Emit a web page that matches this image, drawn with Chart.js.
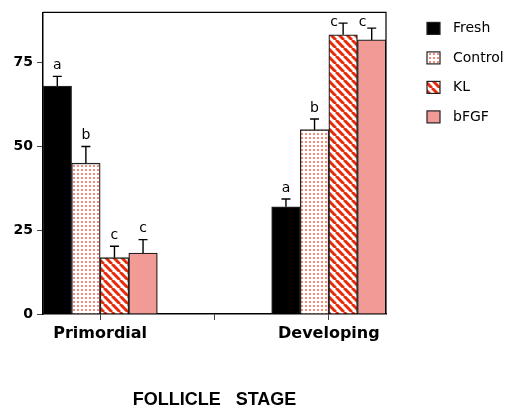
<!DOCTYPE html>
<html>
<head>
<meta charset="utf-8">
<script src="https://cdn.jsdelivr.net/npm/chart.js@4.4.0/dist/chart.umd.min.js"></script>
<style>
  html, body { margin: 0; padding: 0; background: #fff; }
  canvas { display: block; }
</style>
</head>
<body>
<canvas id="chart" width="506" height="411"></canvas>
<script>
const categories = ['Primordial', '', 'Developing'];
const seriesNames = ['Fresh', 'Control', 'KL', 'bFGF'];
const freshValues = [68, null, 32];
const controlValues = [45, null, 55];
const klValues = [16.8, null, 83.3];
const bfgfValues = [18.2, null, 81.8];
const freshErrors = [2.9, null, 2.3];
const controlErrors = [5, null, 3.2];
const klErrors = [3.4, null, 3.5];
const bfgfErrors = [4, null, 3.5];
const freshLetters = ['a', null, 'a'];
const controlLetters = ['b', null, 'b'];
const klLetters = ['c', null, 'c'];
const bfgfLetters = ['c', null, 'c'];
const yTicks = [0, 25, 50, 75];

function makeDots() {
    const c = document.createElement('canvas');
    c.width = 4; c.height = 4;
    const g = c.getContext('2d');
    g.fillStyle = '#fff';
    g.fillRect(0, 0, 4, 4);
    g.fillStyle = 'rgba(238, 90, 70, 0.7)';
    g.fillRect(1, 1, 2, 2);
    return g.createPattern(c, 'repeat');
}

function makeStripes() {
    const s = 8;
    const c = document.createElement('canvas');
    c.width = s; c.height = s;
    const g = c.getContext('2d');
    g.fillStyle = '#fff';
    g.fillRect(0, 0, s, s);
    g.strokeStyle = '#e62a0a';
    g.lineWidth = 3;
    [-s, 0, s].forEach(dx => {
        g.beginPath();
        g.moveTo(dx, 0);
        g.lineTo(dx + s, s);
        g.stroke();
    });
    return g.createPattern(c, 'repeat');
}

const ctx = document.getElementById('chart').getContext('2d');
const fills = ['#000', makeDots(), makeStripes(), '#f29a96'];
const values = [freshValues, controlValues, klValues, bfgfValues];
const errors = [freshErrors, controlErrors, klErrors, bfgfErrors];
const letters = [freshLetters, controlLetters, klLetters, bfgfLetters];

// error bars + significance letters
const errorBars = {
    id: 'errorBars',
    afterDatasetsDraw(chart) {
        const { ctx, chartArea, scales: { y } } = chart;
        ctx.save();
        ctx.strokeStyle = '#000';
        ctx.lineWidth = 1.4;
        ctx.fillStyle = '#000';
        ctx.font = '14px "DejaVu Sans"';
        ctx.textAlign = 'center';
        ctx.textBaseline = 'middle';
        chart.data.datasets.forEach((ds, i) => {
            chart.getDatasetMeta(i).data.forEach((bar, j) => {
                const v = ds.data[j];
                if (v == null) return;
                const capY = y.getPixelForValue(v + errors[i][j]);
                ctx.beginPath();
                ctx.moveTo(bar.x, bar.y);
                ctx.lineTo(bar.x, capY);
                ctx.moveTo(bar.x - 4.5, capY);
                ctx.lineTo(bar.x + 4.5, capY);
                ctx.stroke();
                let ly = capY - 11;
                let lx = bar.x;
                if (ly < chartArea.top + 10) {
                    ly = chartArea.top + 10;
                    lx = bar.x - 9;
                }
                ctx.fillText(letters[i][j], lx, ly);
            });
        });
        ctx.restore();
    }
};

// frame on top and right + legend on the right
const frameLegend = {
    id: 'frameLegend',
    afterDraw(chart) {
        const { ctx, chartArea: a } = chart;
        ctx.save();
        ctx.strokeStyle = '#000';
        ctx.lineWidth = 1.2;
        ctx.beginPath();
        ctx.moveTo(a.left, a.top);
        ctx.lineTo(a.right, a.top);
        ctx.lineTo(a.right, a.bottom);
        ctx.stroke();

        ctx.font = '14px "DejaVu Sans"';
        ctx.textAlign = 'left';
        ctx.textBaseline = 'middle';
        chart.data.datasets.forEach((ds, i) => {
            const cy = a.top + 16 + i * 29.5;
            ctx.fillStyle = ds.backgroundColor;
            ctx.fillRect(427, cy - 6, 13, 12);
            ctx.strokeStyle = '#222';
            ctx.lineWidth = 1.2;
            ctx.strokeRect(427, cy - 6, 13, 12);
            ctx.fillStyle = '#000';
            ctx.fillText(ds.label, 453, cy);
        });
        ctx.restore();
    }
};

new Chart(ctx, {
    type: 'bar',
    data: {
        labels: categories,
        datasets: seriesNames.map((name, i) => ({
            label: name,
            data: values[i],
            backgroundColor: fills[i],
            borderColor: '#222',
            borderWidth: 1.3,
            categoryPercentage: 1,
            barPercentage: 1
        }))
    },
    options: {
        responsive: false,
        devicePixelRatio: 1,
        animation: false,
        layout: { padding: { left: 0, top: 11, right: 120, bottom: 0 } },
        plugins: {
            legend: { display: false },
            tooltip: { enabled: false }
        },
        scales: {
            x: {
                offset: true,
                afterFit: s => { s.height = 97; },
                grid: { drawOnChartArea: false, offset: false, tickLength: 6, tickColor: '#444' },
                border: { color: '#000', width: 1.5 },
                ticks: {
                    color: '#000',
                    padding: 4,
                    font: { family: 'DejaVu Sans', size: 16, weight: 'bold' }
                },
                title: {
                    display: true,
                    text: 'FOLLICLE\u00a0\u00a0\u00a0STAGE',
                    color: '#000',
                    padding: 0,
                    font: { family: 'Liberation Sans', size: 18, weight: 'bold' }
                }
            },
            y: {
                min: 0,
                max: 90,
                afterFit: s => { s.width = 43; },
                afterBuildTicks: s => { s.ticks = yTicks.map(v => ({ value: v })); },
                grid: { drawOnChartArea: false, tickLength: 6, tickColor: '#444' },
                border: { color: '#000', width: 1.5 },
                ticks: {
                    color: '#000',
                    padding: 4,
                    font: { family: 'DejaVu Sans', size: 14, weight: 'bold' }
                }
            }
        }
    },
    plugins: [errorBars, frameLegend]
});
</script>
</body>
</html>
